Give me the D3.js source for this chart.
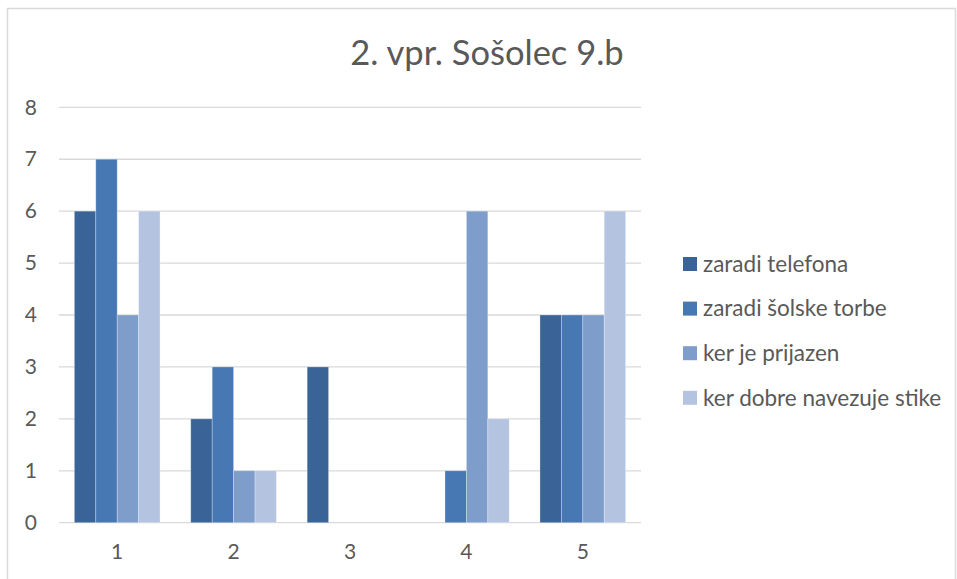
<!DOCTYPE html>
<html>
<head>
<meta charset="utf-8">
<script src="https://cdn.jsdelivr.net/npm/d3@7"></script>
<style>
  body { margin: 0; background: #fff; }
  svg text { font-family: Lato, "Open Sans", sans-serif; fill: #595959; }
</style>
</head>
<body>
<svg id="chart" width="957" height="579"></svg>
<script>
const categories = ["1", "2", "3", "4", "5"];
const seriesNames = [
  "zaradi telefona",
  "zaradi šolske torbe",
  "ker je prijazen",
  "ker dobre navezuje stike"
];
const zaradiTelefona = [6, 2, 3, 0, 4];
const zaradiSolskeTorbe = [7, 3, 0, 1, 4];
const kerJePrijazen = [4, 1, 0, 6, 4];
const kerDobreNavezujeStike = [6, 1, 0, 2, 6];
const yTicks = [0, 1, 2, 3, 4, 5, 6, 7, 8];

const seriesValues = [zaradiTelefona, zaradiSolskeTorbe, kerJePrijazen, kerDobreNavezujeStike];
const colors = ["#3A6397", "#4878B4", "#7E9DCA", "#B4C4E0"];

const svg = d3.select("#chart");

// outer chart frame (only top/left/right visible in the shot)
svg.append("rect")
  .attr("x", 7.5).attr("y", 8.5)
  .attr("width", 948).attr("height", 600)
  .attr("fill", "none")
  .attr("stroke", "#d9d9d9")
  .attr("stroke-width", 1.5);

const plot = { left: 59, right: 641, top: 107.3, bottom: 522.7 };

const x0 = d3.scaleBand().domain(categories).range([plot.left, plot.right]).padding(0);
const x1 = d3.scaleBand()
  .domain(seriesNames)
  .range([x0.bandwidth() * 0.132, x0.bandwidth() * 0.868]);
const y = d3.scaleLinear().domain([0, 8]).range([plot.bottom, plot.top]);

// gridlines
svg.append("g")
  .selectAll("line")
  .data(yTicks)
  .join("line")
  .attr("x1", plot.left).attr("x2", plot.right)
  .attr("y1", d => y(d)).attr("y2", d => y(d))
  .attr("stroke", "#d9d9d9")
  .attr("stroke-width", 1.3);

// y axis labels
const yAxis = d3.axisLeft(y).tickValues(yTicks).tickSize(0).tickPadding(0);
svg.append("g")
  .attr("transform", `translate(37,0)`)
  .call(yAxis)
  .call(g => g.select(".domain").remove())
  .selectAll("text")
  .attr("font-size", 21)
  .attr("fill", "#595959")
  .style("font-family", "Lato, sans-serif");

// x axis labels
const xAxis = d3.axisBottom(x0).tickSize(0).tickPadding(0);
svg.append("g")
  .attr("transform", `translate(0,${plot.bottom + 21})`)
  .call(xAxis)
  .call(g => g.select(".domain").remove())
  .selectAll("text")
  .attr("font-size", 21)
  .attr("fill", "#595959")
  .style("font-family", "Lato, sans-serif");

// bars
const groups = svg.append("g")
  .selectAll("g")
  .data(categories)
  .join("g")
  .attr("transform", d => `translate(${x0(d)},0)`);

groups.selectAll("rect")
  .data((d, i) => seriesNames.map((s, j) => ({ s, j, v: seriesValues[j][i] })))
  .join("rect")
  .filter(d => d.v > 0)
  .attr("x", d => x1(d.s))
  .attr("width", x1.bandwidth())
  .attr("y", d => y(d.v))
  .attr("height", d => y(0) - y(d.v))
  .attr("fill", d => colors[d.j])
  .attr("stroke", "rgba(255,255,255,0.35)")
  .attr("stroke-width", 0.8);

// title
svg.append("text")
  .attr("x", 487).attr("y", 65)
  .attr("text-anchor", "middle")
  .attr("font-size", 34.5)
  .text("2. vpr. Sošolec 9.b");

// legend
const legend = svg.append("g")
  .selectAll("g")
  .data(seriesNames)
  .join("g")
  .attr("transform", (d, i) => `translate(683,${264 + i * 44.6})`);

legend.append("rect")
  .attr("x", 0).attr("y", -7)
  .attr("width", 14).attr("height", 14)
  .attr("fill", (d, i) => colors[i]);

legend.append("text")
  .attr("x", 20).attr("y", 0)
  .attr("dy", "0.35em")
  .attr("font-size", 22.5)
  .text(d => d);
</script>
</body>
</html>
